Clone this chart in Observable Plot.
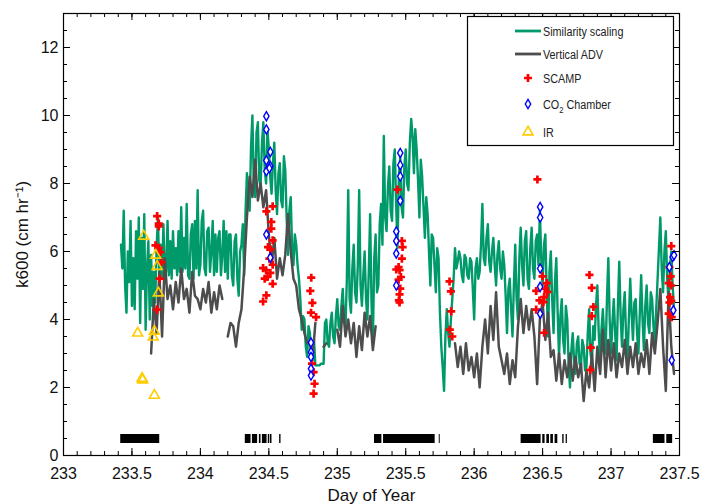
<!DOCTYPE html>
<html>
<head>
<meta charset="utf-8">
<script src="https://cdn.jsdelivr.net/npm/d3@7"></script>
<script src="https://cdn.jsdelivr.net/npm/@observablehq/plot@0.6"></script>
<style>
  html, body { margin: 0; padding: 0; background: #fff; }
  #chart { position: relative; width: 702px; height: 504px; font-family: "Liberation Sans", Arial, sans-serif; }
  #chart svg { display: block; }
</style>
</head>
<body>
<div id="chart"></div>
<script>
// ---- Gas transfer velocity k600 (cm/hr), day of year 233–237.5 ----

// Similarity scaling estimate, sampled every 0.01 day from day 233.42
const simStart = 233.42;
const simStep = 0.01;
const simK600 = [
  6.2, 5.5, 7.2, 5.0, 4.2, 6.0, 5.1, 6.9, 4.4, 5.8,
  4.3, 6.6, 5.2, 7.0, 3.9, 6.4, 4.9, 7.1, 3.7, 5.5,
  6.3, 4.0, 5.9, 4.4, 5.4, 4.5, 6.1, 7.0, 5.3, 6.2,
  5.2, 6.8, 5.3, 5.4, 6.9, 5.3, 6.3, 5.2, 6.6, 5.5,
  6.1, 5.3, 6.6, 5.4, 7.3, 5.4, 6.4, 5.5, 7.4, 5.3,
  5.2, 6.5, 6.8, 5.2, 6.9, 5.5, 7.8, 5.3, 5.6, 6.9,
  7.2, 5.5, 5.3, 6.6, 6.7, 5.4, 6.0, 6.9, 5.3, 6.5,
  5.4, 6.4, 6.6, 5.3, 5.9, 6.9, 5.4, 6.6, 5.2, 6.5,
  6.5, 5.3, 5.0, 6.3, 6.5, 5.2, 4.7, 6.0, 6.2, 6.8,
  5.3, 7.2, 8.3, 7.5, 7.2, 9.1, 10.0, 8.0, 7.6, 9.5,
  9.8, 8.1, 7.9, 9.2, 9.8, 8.4, 8.0, 9.6, 9.0, 8.2,
  7.7, 8.6, 9.2, 7.8, 7.1, 8.3, 8.6, 7.5, 7.3, 8.8,
  8.4, 7.0, 5.9, 7.2, 7.6, 6.1, 5.6, 6.5, 6.2, 5.6,
  5.2, 4.6, 3.7, 4.1, 4.0, 3.2, 2.9, 3.8, 3.6, 2.8,
  2.8, 3.4, 2.65, 2.65, 2.65, 2.65, 2.7, 2.7, 2.7, 3.9,
  4.0, 3.3, 3.2, 3.9, 4.2, 3.5, 3.3, 4.1, 4.6, 3.8,
  3.7, 4.4, 4.9, 4.0, 3.8, 5.2, 7.8, 4.6, 4.2, 5.5,
  6.2, 4.8, 4.5, 5.6, 7.8, 5.0, 4.4, 5.3, 6.0, 4.6,
  4.0, 5.4, 7.1, 4.5, 3.3, 5.8, 6.5, 4.8, 5.0, 6.8,
  7.4, 6.2, 9.4, 7.0, 6.6, 7.9, 8.5, 7.2, 6.9, 8.6,
  9.0, 7.4, 6.1, 8.2, 8.8, 7.3, 7.0, 8.5, 9.0, 8.0,
  7.8, 9.2, 9.9, 9.4, 8.3, 9.6, 9.0, 8.1, 7.0, 8.7,
  8.2, 7.3, 6.4, 7.6, 7.1, 6.0, 5.0, 6.5, 6.4, 5.6,
  4.8, 6.1, 5.8, 4.2, 3.2, 2.6, 1.9, 3.5, 4.3, 3.6,
  3.2, 4.0, 4.6, 5.2, 6.1, 5.5, 5.7, 6.0, 5.8, 5.3,
  5.1, 5.9, 5.8, 5.3, 5.2, 5.8, 5.7, 4.9, 4.0, 5.5,
  5.8, 5.2, 5.4, 6.2, 7.4, 5.8, 5.6, 6.4, 6.8, 5.7,
  5.4, 6.0, 6.4, 5.6, 5.0, 5.9, 6.3, 5.5, 5.2, 6.0,
  5.6, 4.7, 3.6, 4.9, 5.2, 4.3, 3.5, 5.0, 6.2, 4.6,
  4.0, 5.8, 6.7, 5.6, 5.0, 6.3, 6.6, 5.2, 4.9, 6.1,
  6.7, 5.5, 5.2, 6.3, 6.5, 5.6, 7.2, 5.8, 5.0, 6.2,
  6.5, 4.8, 3.5, 5.4, 6.0, 4.6, 3.6, 5.1, 5.8, 4.2,
  2.9, 4.1, 4.6, 3.4, 3.0, 4.4, 4.0, 2.7, 2.0, 3.1,
  3.6, 2.8, 2.4, 3.3, 3.5, 2.7, 2.6, 3.4, 3.2, 2.5,
  2.6, 3.6, 4.3, 3.0, 2.7, 3.8, 3.4, 4.4, 5.0, 3.6,
  2.8, 3.7, 4.3, 3.5, 3.0, 4.6, 5.8, 4.0, 3.0, 3.9,
  4.6, 3.6, 2.8, 4.4, 5.7, 4.1, 3.2, 4.3, 4.8, 3.5,
  2.8, 4.0, 5.2, 4.2, 3.4, 4.5, 4.6, 3.6, 3.0, 4.2,
  5.3, 4.0, 3.1, 4.4, 5.0, 3.9, 3.6, 4.8, 4.6, 3.8,
  3.3, 4.3, 5.2, 6.1, 7.0, 5.5, 4.8, 6.0, 6.6, 5.2,
  4.5, 5.5, 6.0, 5.0, 4.3
];

// Vertical ADV estimate, sampled every 0.02 day from day 233.64 (null = no data)
const advStart = 233.64;
const advStep = 0.02;
const advK600 = [
  3.0, 4.6, 3.6, 5.4, 3.5,   5.8, 4.6, 5.0, 4.3, 5.1,
  4.5, 5.5, 4.6, 4.9, 4.2,   5.4, 4.7, 4.6, 4.3, 4.9,
  4.5, 5.1, 4.2, 4.8, 4.3,   5.0, 4.6, null, 3.5, 3.9,
  3.8, 3.2, 3.9, 4.3, 5.5,   7.0, 8.2, 7.6, 8.7, 7.5,
  8.0, 7.3, 7.8, 6.5, 5.6,   6.4, 5.2, 5.8, 5.3, 5.9,
  7.1, 6.0, 5.2, 5.0, 4.3,   4.0, 3.6, 3.3, 3.3, 2.9,
  3.9, null, null, 3.2, 3.3, null, null, null, 3.7, 3.2,
  4.4, 3.5, 4.0, 3.3, 3.9,   2.9, 3.8, 3.1, 4.2, 3.5,
  4.1, 3.1, 3.8, null, null, null, null, null, null, null,
  null, null, null, null, null, null, null, null, null, null,
  null, null, null, null, null, null, null, null, null, null,
  null, 3.3, 2.6, 3.2, 2.4,  3.3, 2.5, 2.9, 2.3, 3.0,
  2.0, 3.2, 4.0, 3.0, 4.4,   3.4, 4.8, 3.2, 2.8, 2.4,
  3.0, 2.1, 2.8, 2.3, 3.8,   4.6, 3.6, 4.4, 3.7, 4.3,
  3.5, 2.1, 4.0, 4.5, 3.4,   4.2, 2.9, 3.1, 2.2, 3.0,
  2.1, 2.8, 2.3, 3.0, 2.2,   2.9, 2.3, 2.7, 1.6, 2.5,
  2.0, 3.0, 1.9, 3.2, 2.4,   3.7, 2.3, 3.4, 2.5, 3.3,
  2.3, 3.0, 2.6, 3.4, 2.4,   3.2, 2.6, 3.3, 2.4, 3.0,
  2.6, 3.4, 2.4, 3.6, 3.0,   3.9, 4.9, 3.2, 1.9, 4.8,
  3.2, 2.4
];

// SCAMP profiler
const scampDay = [
  233.684, 233.696, 233.696, 233.672, 233.696, 233.708, 233.715, 233.703, 233.684,
  234.528, 234.482, 234.518, 234.518, 234.528, 234.494, 234.511, 234.504, 234.528,
  234.458, 234.480, 234.511, 234.470, 234.490, 234.528, 234.482, 234.458,
  234.810, 234.803, 234.818, 234.808, 234.845, 234.815, 234.827, 234.834, 234.827,
  235.440, 235.472, 235.477, 235.472, 235.448, 235.431, 235.455, 235.465, 235.448,
  235.460, 235.455, 235.450, 235.455,
  235.820, 235.830, 235.832, 235.822, 235.840,
  236.462, 236.499, 236.530, 236.453, 236.518, 236.535, 236.477, 236.511, 236.506,
  236.453, 236.511,
  236.842, 236.859, 236.871, 236.859, 236.852, 236.847,
  237.440, 237.436, 237.426, 237.421, 237.440, 237.431, 237.426, 237.440, 237.421, 237.443
];
const scampK600 = [
  7.04, 6.82, 6.74, 6.18, 6.11, 5.98, 5.69, 5.20, 4.29,
  7.33, 7.18, 6.87, 6.67, 6.33, 6.13, 6.06, 5.79, 5.61,
  5.51, 5.45, 5.37, 5.20, 5.25, 5.05, 4.71, 4.53,
  5.23, 4.84, 4.49, 4.20, 4.07, 2.70, 2.45, 2.11, 1.82,
  7.82, 6.31, 6.13, 5.79, 5.54, 5.47, 5.45, 5.25, 5.17,
  4.91, 4.74, 4.56, 4.50,
  5.12, 4.83, 4.24, 3.70, 3.50,
  8.12, 5.27, 5.07, 4.84, 4.91, 4.81, 4.56, 4.66, 4.51,
  4.29, 3.61,
  5.31, 4.93, 4.37, 4.10, 3.17, 2.52,
  6.16, 5.27, 5.54, 5.07, 5.00, 4.66, 4.50, 4.55, 4.17, 4.07
];

// Floating CO2 chamber
const chamberDay = [
  234.482, 234.482, 234.511, 234.482, 234.511, 234.482, 234.504, 234.482, 234.511,
  234.808, 234.808, 234.808, 234.808, 234.808,
  235.460, 235.460, 235.460, 235.460, 235.431, 235.431, 235.431, 235.431,
  236.482, 236.482, 236.482, 236.482, 236.482,
  237.426, 237.450, 237.460, 237.455, 237.443
];
const chamberK600 = [
  9.98, 9.59, 8.93, 8.68, 8.51, 8.36, 8.45, 6.50, 5.82,
  3.32, 3.04, 2.90, 2.55, 2.35,
  8.90, 8.54, 8.21, 7.49, 6.59, 6.31, 5.94, 5.00,
  7.31, 7.00, 5.50, 4.96, 4.17,
  5.54, 5.84, 5.89, 4.27, 2.80
];

// IR imagery
const irDay  = [233.542, 233.574, 233.578, 233.586, 233.655, 233.664, 233.664, 233.674, 233.684, 233.693];
const irK600 = [3.60, 2.27, 2.22, 6.45, 3.48, 3.65, 1.77, 5.89, 5.56, 4.78];

// Sampling periods shown as black bars along the bottom
const samplingLevel = 0.5;
const samplingStart = [233.418, 234.328, 234.380, 234.431, 234.453, 234.496, 234.511, 234.579,
  235.272, 235.338, 235.745, 236.343, 236.501, 236.531, 236.560, 236.591, 236.647, 236.672,
  237.309, 237.407];
const samplingEnd = [233.703, 234.370, 234.418, 234.443, 234.487, 234.506, 234.523, 234.589,
  235.326, 235.715, 235.752, 236.489, 236.518, 236.550, 236.579, 236.611, 236.657, 236.681,
  237.394, 237.450];

// Axis ticks
const xTicks = [233, 233.5, 234, 234.5, 235, 235.5, 236, 236.5, 237, 237.5];
const yTicks = [0, 2, 4, 6, 8, 10, 12];
const xMinor = d3.range(2330, 2376).map(d => d / 10);
const yMinor = d3.range(0, 27).map(d => d / 2);

// Series styling
const colors = {sim: "#009a6a", adv: "#4d4d4d", scamp: "#ff0000", chamber: "#0000ff", ir: "#ffcc00"};

// ---- Tables for the marks ----
const sim = simK600.map((k, i) => ({day: simStart + i * simStep, k}));
const adv = advK600.map((k, i) => ({day: advStart + i * advStep, k}));
const scamp = scampDay.map((day, i) => ({day, k: scampK600[i]}));
const chamber = chamberDay.map((day, i) => ({day, k: chamberK600[i]}));
const ir = irDay.map((day, i) => ({day, k: irK600[i]}));
const sampling = samplingStart.map((start, i) => ({start, end: samplingEnd[i]}));

const W = 702, H = 504;
const mL = 63, mR = 23, mT = 13, mB = 49;
const frameW = W - mL - mR, frameH = H - mT - mB;
const major = 7, minor = 4;

const chart = Plot.plot({
  width: W,
  height: H,
  marginLeft: mL,
  marginRight: mR,
  marginTop: mT,
  marginBottom: mB,
  x: {domain: [233, 237.5]},
  y: {domain: [0, 13]},
  style: {fontFamily: '"Liberation Sans", Arial, sans-serif', fontSize: "16px", color: "#111", background: "#fff", overflow: "visible"},
  marks: [
    Plot.ruleY(sampling, {x1: "start", x2: "end", y: () => samplingLevel, stroke: "#000", strokeWidth: 9}),
    Plot.line(sim, {x: "day", y: "k", stroke: colors.sim, strokeWidth: 2.4}),
    Plot.line(adv, {x: "day", y: "k", stroke: colors.adv, strokeWidth: 2.5}),
    Plot.dot(scamp, {x: "day", y: "k", symbol: "cross", r: 3.4, fill: colors.scamp, stroke: "none"}),
    Plot.dot(chamber, {x: "day", y: "k", symbol: "diamond", r: 2.8, fill: "#fff", stroke: colors.chamber, strokeWidth: 1.4}),
    Plot.dot(ir, {x: "day", y: "k", symbol: "triangle", r: 3.7, fill: "none", stroke: colors.ir, strokeWidth: 1.6}),
    Plot.frame({stroke: "#000", strokeWidth: 1.2}),
    // inward ticks on all four sides
    Plot.tickX(xMinor, {x: d => d, insetTop: frameH - minor, stroke: "#000"}),
    Plot.tickX(xMinor, {x: d => d, insetBottom: frameH - minor, stroke: "#000"}),
    Plot.tickX(xTicks, {x: d => d, insetTop: frameH - major, stroke: "#000"}),
    Plot.tickX(xTicks, {x: d => d, insetBottom: frameH - major, stroke: "#000"}),
    Plot.tickY(yMinor, {y: d => d, insetRight: frameW - minor, stroke: "#000"}),
    Plot.tickY(yMinor, {y: d => d, insetLeft: frameW - minor, stroke: "#000"}),
    Plot.tickY(yTicks, {y: d => d, insetRight: frameW - major, stroke: "#000"}),
    Plot.tickY(yTicks, {y: d => d, insetLeft: frameW - major, stroke: "#000"}),
    Plot.axisX(xTicks, {tickSize: 0, tickPadding: 12, tickFormat: d => String(d), label: null, fontSize: 16}),
    Plot.axisY(yTicks, {tickSize: 0, tickPadding: 5, tickFormat: d => String(d), label: null, fontSize: 16}),
    Plot.text(["k600 (cm hr\u207B\u00B9)"], {frameAnchor: "left", dx: -41, rotate: -90, textAnchor: "middle", lineAnchor: "middle", text: d => d, fontSize: 17}),
    Plot.text(["Day of Year"], {frameAnchor: "bottom", dy: 40, textAnchor: "middle", lineAnchor: "middle", text: d => d, fontSize: 17})
  ]
});
document.getElementById("chart").append(chart);

// ---- Legend box ----
const legend = d3.select("#chart").append("svg")
  .attr("width", W).attr("height", H)
  .style("position", "absolute").style("left", "0px").style("top", "0px")
  .style("pointer-events", "none")
  .style("font-family", '"Liberation Sans", Arial, sans-serif');

legend.append("rect")
  .attr("x", 467.5).attr("y", 16.5).attr("width", 206).attr("height", 129)
  .attr("fill", "#fff").attr("stroke", "#000").attr("stroke-width", 1.2);

const entries = [
  {label: "Similarity scaling", kind: "line", color: colors.sim, y: 31},
  {label: "Vertical ADV", kind: "line", color: colors.adv, y: 54},
  {label: "SCAMP", kind: "cross", color: colors.scamp, y: 78},
  {label: "CO2 Chamber", kind: "diamond", color: colors.chamber, y: 104},
  {label: "IR", kind: "triangle", color: colors.ir, y: 132}
];
const symX = 528, lineX1 = 515, lineX2 = 541, textX = 543;

for (const e of entries) {
  if (e.kind === "line") {
    legend.append("line").attr("x1", lineX1).attr("x2", lineX2).attr("y1", e.y).attr("y2", e.y)
      .attr("stroke", e.color).attr("stroke-width", 2.8);
  } else if (e.kind === "cross") {
    legend.append("path").attr("transform", `translate(${symX},${e.y})`)
      .attr("d", d3.symbol(d3.symbolCross, 3.4 * 3.4 * Math.PI)()).attr("fill", e.color);
  } else if (e.kind === "diamond") {
    legend.append("path").attr("transform", `translate(${symX},${e.y})`)
      .attr("d", d3.symbol(d3.symbolDiamond, 2.8 * 2.8 * Math.PI)())
      .attr("fill", "#fff").attr("stroke", e.color).attr("stroke-width", 1.4);
  } else {
    legend.append("path").attr("transform", `translate(${symX},${e.y})`)
      .attr("d", d3.symbol(d3.symbolTriangle, 3.7 * 3.7 * Math.PI)())
      .attr("fill", "none").attr("stroke", e.color).attr("stroke-width", 1.6);
  }
  const t = legend.append("text")
    .attr("transform", `translate(${textX},${e.y}) scale(0.8,1)`)
    .attr("dy", "0.35em").attr("font-size", 13.5).attr("fill", "#222");
  if (e.label === "CO2 Chamber") {
    t.append("tspan").text("CO");
    t.append("tspan").attr("font-size", 9.5).attr("dy", 4).text("2");
    t.append("tspan").attr("dy", -4).text("\u00A0Chamber");
  } else {
    t.text(e.label);
  }
}
</script>
</body>
</html>
